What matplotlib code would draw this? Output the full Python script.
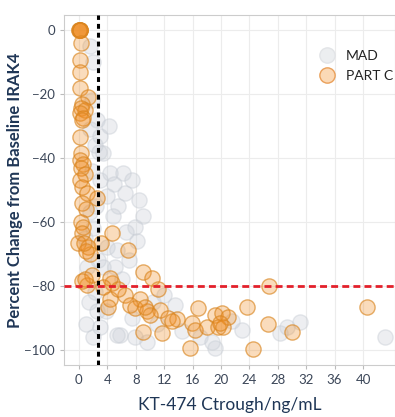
import matplotlib
matplotlib.use('Agg')
import matplotlib.pyplot as plt
from matplotlib.lines import Line2D

# --- Data ---
part_c_x = [0, 0.1, 0.2, 0.1, 0.0, 0.2,
            0.3, 0.2, 0.1, 0.2, 1.3, 0.5, 0.3, 0.8, 0.2, 0.6, 0.4,
            0.2, 0.3, 0.1, 0.6, 0.3, 0.9, 0.2, 0.5, 1.1, 0.4, 1.0,
            0.3, 0.6, 0.4, -0.1, 1.3, 1.5, 1.0, 0.7, 2.6, 3.1,
            4.6, 6.9, 9.0, 10.3, 11.1, 4.6, 1.1, 0.4, 1.8, 4.4, 0.8,
            6.5, 4.4, 8.6, 7.2, 4.1, 7.9, 11.4, 9.6, 10.0, 12.5, 13.8, 13.1,
            15.9, 9.0, 11.7, 15.6, 9.3, 16.8, 16.3, 18.0, 19.2, 20.1, 21.0,
            19.6, 20.3, 19.8, 23.7, 26.6, 30.0, 24.5, 40.6, 26.7, 5.5, 3.4]
part_c_y = [0, 0, 0, 0, 0, 0,
            -4, -9.5, -13, -18, -21, -23, -24.5, -25, -26, -27.5, -28,
            -33.5, -38.5, -40.6, -42, -43, -45, -47, -49, -51, -54, -56,
            -60, -61.5, -63.5, -66.6, -67.8, -70, -69, -66.5, -52.5, -66.5,
            -63.5, -68.8, -75.7, -77.5, -81, -79, -79.6, -78.5, -76.5, -77.5, -78,
            -83, -84, -84, -86, -86.5, -87, -87.5, -88, -89, -90, -90.5, -91,
            -91.5, -94.4, -94.8, -99.4, -86.6, -87, -93.7, -93, -89, -88.4, -89.7,
            -92.8, -92.8, -91.5, -86.6, -92, -94.4, -99.7, -86.6, -80, -81, -80.5]

mad_x = [1.5, 2.0, 1.8, 2.5, 1.5, 2.2, 2.8, 1.9, 3.0, 2.4, 1.6, 2.0, 0.8,
         2.7, 1.2, 2.3, 1.4, 2.5, 1.0, 2.0, 3.0,
         3.4, 4.4, 6.2, 5.0, 7.5, 4.0, 5.5, 8.5, 6.5, 7.9, 6.7, 3.9, 5.3,
         3.4, 5.1, 7.0, 8.2, 6.0, 3.8, 5.8, 7.9, 9.6, 5.3, 7.5, 10.5, 12.0,
         13.5, 14.5, 11.0, 17.0, 19.2, 18.8, 23.0, 21.5, 28.3, 29.3, 31.1,
         43.1, 4.8, 9.0, 3.0, 4.2]
mad_y = [-5, -10, -22, -28, -31, -36, -38, -44, -47, -55, -57, -62, -65,
         -72, -74, -82, -85, -88, -92, -96, -92.8,
         -38.5, -44.7, -44.7, -48, -47, -52, -55, -53, -51, -61.5, -63, -67.8, -68.8,
         -74, -74, -72, -66, -78, -88, -95.3, -96, -97.5, -95.3, -90, -85, -83,
         -86, -94, -92, -96, -99.4, -97.5, -93.8, -91, -94.7, -92.8, -91.3,
         -96, -58, -58, -33, -30]

x_ticks = [0, 4, 8, 12, 16, 20, 24, 28, 32, 36, 40]
y_ticks = [0, -20, -40, -60, -80, -100]
ctrough_cutoff = 2.7
target_line = -80

# --- Style ---
FONT = ['Lato', 'DejaVu Sans']
NAVY = '#1f3656'
TICK_C = '#3b4658'
MARKER_S = 120
ORANGE_FACE = (0.94, 0.55, 0.13, 0.30)
ORANGE_EDGE = (0.85, 0.52, 0.12, 0.65)
GRAY_FACE = (0.80, 0.82, 0.85, 0.35)
GRAY_EDGE = (0.78, 0.80, 0.83, 0.45)

plt.rcParams['font.family'] = FONT

fig = plt.figure(figsize=(3.95, 4.17), dpi=100)
ax = fig.add_axes([0.162, 0.125, 0.838, 0.839])

ax.scatter(mad_x, mad_y, s=MARKER_S, facecolor=GRAY_FACE, edgecolor=GRAY_EDGE,
           linewidth=1, zorder=2)
ax.scatter(part_c_x, part_c_y, s=MARKER_S, facecolor=ORANGE_FACE, edgecolor=ORANGE_EDGE,
           linewidth=1, zorder=3)

ax.axvline(ctrough_cutoff, color='black', lw=2.2, linestyle=(0, (1.6, 1.3)), zorder=4)
ax.axhline(target_line, color='#e3202b', lw=2.0, linestyle=(0, (2.5, 1.5)), zorder=4)

ax.set_xlim(-2.1, 44.5)
ax.set_ylim(-104.7, 4.7)
ax.set_xticks(x_ticks)
ax.set_yticks(y_ticks)
ax.grid(True, color='#ececec', lw=0.8, zorder=0)
ax.set_axisbelow(True)
ax.tick_params(colors='#bbbbbb', labelcolor=TICK_C, labelsize=9.5, length=3, width=0.8)
for side in ['left', 'bottom', 'top', 'right']:
    ax.spines[side].set_color('#cccccc')
    ax.spines[side].set_linewidth(0.8)

ax.set_ylabel('Percent Change from Baseline IRAK4', fontsize=12, fontweight='bold',
              color=NAVY, labelpad=1)
ax.set_xlabel('KT-474 Ctrough/ng/mL', fontsize=12.5, color=NAVY, labelpad=8)

handles = [
    Line2D([], [], marker='o', linestyle='none', markersize=11,
           markerfacecolor='#eceef0', markeredgecolor='#e2e4e7', label='MAD'),
    Line2D([], [], marker='o', linestyle='none', markersize=11,
           markerfacecolor='#fbd9b6', markeredgecolor='#eaa05a', label='PART C'),
]
ax.legend(handles=handles, loc='upper left', bbox_to_anchor=(0.735, 0.915),
          frameon=False, fontsize=10, labelcolor='#222222', handletextpad=0.4,
          labelspacing=0.55, borderaxespad=0)

fig.savefig('out.png', dpi=100)
